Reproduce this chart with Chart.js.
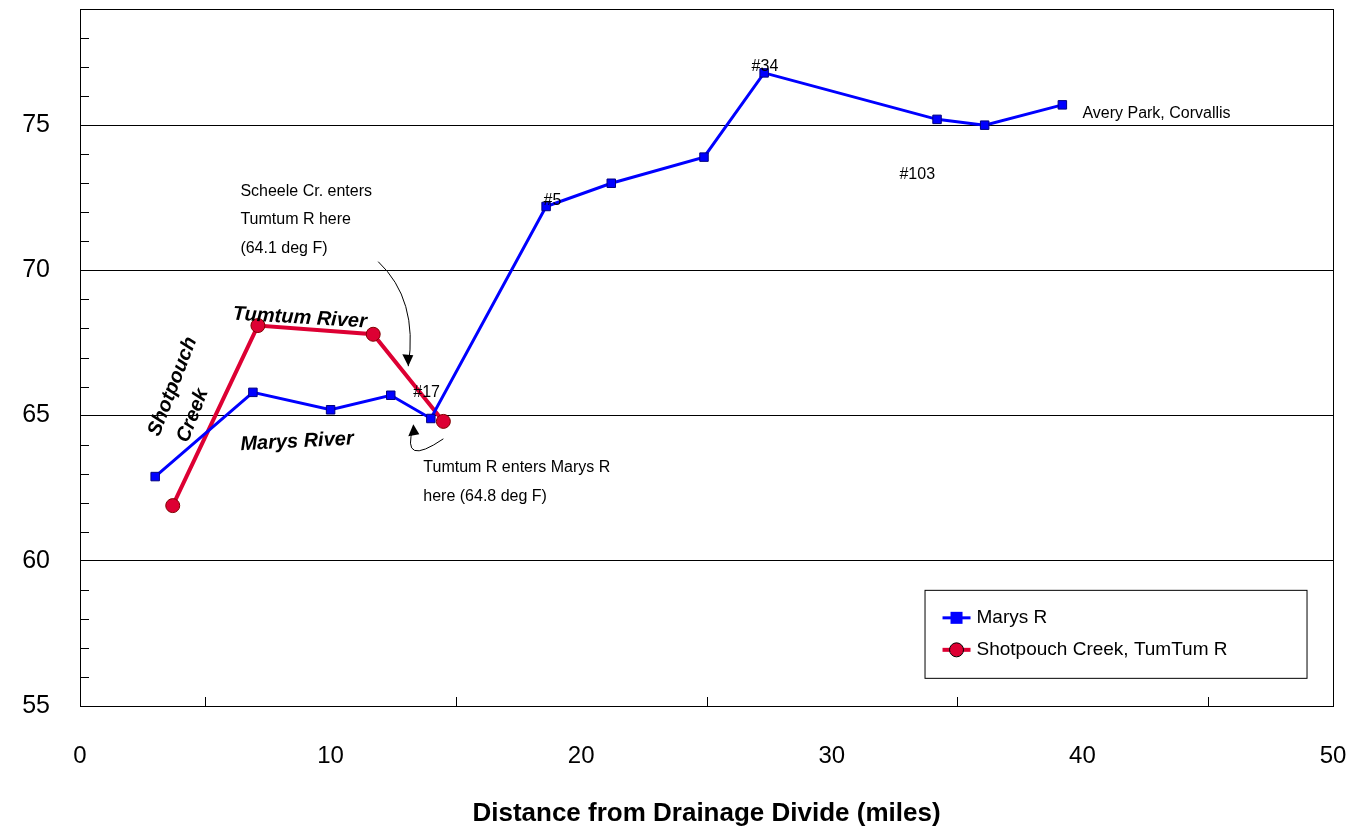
<!DOCTYPE html>
<html><head><meta charset="utf-8">
<script src="https://cdn.jsdelivr.net/npm/chart.js@4"></script>
<style>body{margin:0;background:#fff}#wrap{width:1369px;height:835px}</style>
</head><body><div id="wrap"><canvas id="myChart"></canvas></div>
<script>
var marysX=[3.0,6.9,10.0,12.4,14.0,18.6,21.2,24.9,27.3,34.2,36.1,39.2]
var marysY=[62.9,65.8,65.2,65.7,64.9,72.2,73.0,73.9,76.8,75.2,75.0,75.7]
var tumX=[3.7,7.1,11.7,14.5]
var tumY=[61.9,68.1,67.8,64.8]
var seriesNames=['Marys R','Shotpouch Creek, TumTum R']

var FONT='"Liberation Sans", Arial, sans-serif'

var extras={
  id:'extras',
  afterDraw:function(c){
    var ctx=c.ctx, x=c.scales.x, y=c.scales.y, a=c.chartArea
    ctx.save()
    ctx.strokeStyle='#000';ctx.lineWidth=1
    // minor ticks
    for(var v=56;v<79;v++){ if(v%5==0)continue
      var py=Math.round(y.getPixelForValue(v))+0.5
      ctx.beginPath();ctx.moveTo(a.left,py);ctx.lineTo(a.left+9,py);ctx.stroke()}
    for(var v=0;v<=50;v+=5){
      var px=Math.round(x.getPixelForValue(v))+0.5
      ctx.beginPath();ctx.moveTo(px,a.bottom);ctx.lineTo(px,a.bottom-(v%10==0?0:9));ctx.stroke()}
    function t(s,vx,vy,opt){opt=opt||{}
      ctx.save();ctx.font=(opt.font||'16px '+FONT);ctx.fillStyle='#000';ctx.textAlign=opt.align||'left';ctx.textBaseline='middle'
      ctx.translate(x.getPixelForValue(vx),y.getPixelForValue(vy));if(opt.rot)ctx.rotate(opt.rot)
      ctx.fillText(s,0,0);ctx.restore()}
    t('#34',26.8,77.0);t('#5',18.5,72.4);t('#17',13.3,65.8);t('#103',32.7,73.3)
    t('Avery Park, Corvallis',40,75.4)
    t('Scheele Cr. enters',6.4,72.7);t('Tumtum R here',6.4,71.75);t('(64.1 deg F)',6.4,70.75)
    t('Tumtum R enters Marys R',13.7,63.2);t('here (64.8 deg F)',13.7,62.2)
    var bi='italic bold 20px '+FONT
    t('Tumtum River',6.1,68.5,{font:bi,rot:0.06})
    t('Marys River',6.4,64.0,{font:bi,rot:-0.05})
    t('Shotpouch',3.7,66.0,{font:bi,rot:-1.2,align:'center'})
    t('Creek',4.5,65.0,{font:bi,rot:-1.2,align:'center'})
    // arrows
    function P(vx,vy){return [x.getPixelForValue(vx),y.getPixelForValue(vy)]}
    ctx.beginPath();var p=P(11.9,70.3);ctx.moveTo(p[0],p[1])
    var c1=P(13.5,69.0),e=P(13.1,66.7);ctx.quadraticCurveTo(c1[0],c1[1],e[0],e[1]);ctx.stroke()
    ctx.beginPath();ctx.moveTo(e[0],e[1]);ctx.lineTo(e[0]-6,e[1]-12);ctx.lineTo(e[0]+5,e[1]-11);ctx.closePath();ctx.fill()
    ctx.beginPath();p=P(14.5,64.2);ctx.moveTo(p[0],p[1]);c1=P(12.8,63.2);e=P(13.3,64.6)
    ctx.quadraticCurveTo(c1[0],c1[1],e[0],e[1]);ctx.stroke()
    ctx.beginPath();ctx.moveTo(e[0],e[1]-3);ctx.lineTo(e[0]-5,e[1]+9);ctx.lineTo(e[0]+6,e[1]+7);ctx.closePath();ctx.fill()
    // legend box
    var lx=x.getPixelForValue(33.7),ly=y.getPixelForValue(59.0),lw=382,lh=88
    ctx.fillStyle='#fff';ctx.fillRect(lx,ly,lw,lh);ctx.strokeRect(lx+0.5,ly+0.5,lw,lh)
    var cols=['#0000ff','#dd0033'],lwid=[3,4]
    for(var i=0;i<2;i++){var yy=ly+28+i*32
      ctx.strokeStyle=cols[i];ctx.lineWidth=lwid[i];ctx.beginPath();ctx.moveTo(lx+18,yy);ctx.lineTo(lx+46,yy);ctx.stroke()
      ctx.fillStyle=i?'#dd0033':'#0000ff';ctx.strokeStyle='#000';ctx.lineWidth=1
      if(i==0){ctx.fillRect(lx+26,yy-6,12,12)}else{ctx.beginPath();ctx.arc(lx+32,yy,7,0,7);ctx.fill();ctx.stroke()}
      ctx.fillStyle='#000';ctx.font='19px '+FONT;ctx.textBaseline='middle';ctx.textAlign='left';ctx.fillText(seriesNames[i],lx+52,yy)}
    ctx.restore()
  }
}

new Chart('myChart',{
  type:'line',
  data:{datasets:[
    {label:seriesNames[0],data:marysX.map(function(v,i){return {x:v,y:marysY[i]}}),borderColor:'#0000ff',backgroundColor:'#0000ff',
     borderWidth:3,pointStyle:'rect',pointRadius:6,pointBorderColor:'#000080',pointBorderWidth:1,tension:0},
    {label:seriesNames[1],data:tumX.map(function(v,i){return {x:v,y:tumY[i]}}),borderColor:'#dd0033',backgroundColor:'#dd0033',
     borderWidth:4,pointStyle:'circle',pointRadius:7,pointBorderColor:'#800000',pointBorderWidth:1,tension:0}
  ]},
  options:{responsive:true,maintainAspectRatio:false,animation:false,
    layout:{padding:{top:9,right:36,left:0,bottom:0}},
    plugins:{legend:{display:false},tooltip:{enabled:false}},
    scales:{
      x:{type:'linear',min:0,max:50,afterFit:function(s){s.height=129;s.paddingLeft=0;s.paddingRight=0},
        ticks:{stepSize:10,color:'#000',font:{size:24,family:FONT},padding:36},
        grid:{display:false,drawTicks:false},border:{color:'#000',width:1},
        title:{display:true,text:'Distance from Drainage Divide (miles)',color:'#000',font:{size:26,weight:'bold',family:FONT},padding:{top:13,bottom:6}}},
      y:{min:55,max:79,afterFit:function(s){s.width=80;s.paddingTop=0;s.paddingBottom=0},
        ticks:{stepSize:5,color:'#000',font:{size:25,family:FONT},padding:30,callback:function(v){return v%5==0?v:''}},
        grid:{color:function(c){return c.tick.value>55?'#000':'rgba(0,0,0,0)'},drawTicks:false},
        border:{color:'#000',width:1}}
    }},
  plugins:[extras, {id:'frame',afterDraw:function(c){var a=c.chartArea,ctx=c.ctx;ctx.save();ctx.strokeStyle='#000';ctx.strokeRect(a.left+0.5,a.top+0.5,a.right-a.left,a.bottom-a.top);ctx.restore()}}]
})
</script></body></html>
